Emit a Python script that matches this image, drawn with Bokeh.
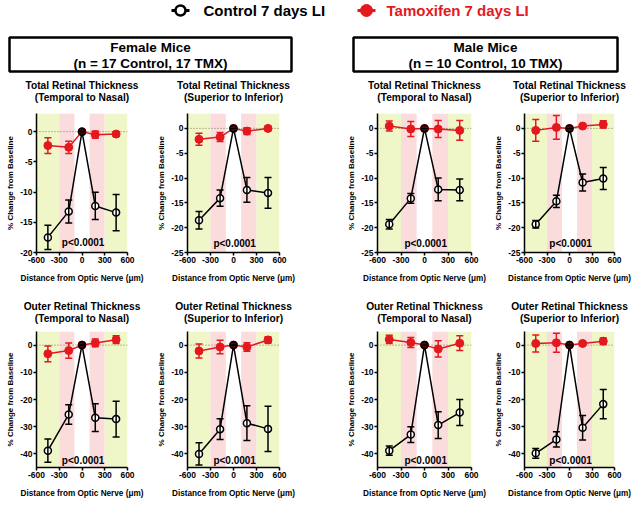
from bokeh.plotting import figure
from bokeh.models import Range1d, FixedTicker, BoxAnnotation, Span, Whisker, ColumnDataSource, TeeHead, Label
from bokeh.layouts import column, row
from bokeh.embed import file_html
from bokeh.resources import INLINE

# ---------------- data ----------------
distance = [-450, -175, 0, 175, 450]
x_ticks = [-600, -300, 0, 300, 600]

# Female, total retinal thickness, temporal to nasal
f_tot_tn_ctrl = [-17.5, -13.2, 0, -12.3, -13.4]
f_tot_tn_ctrl_err = [2.0, 1.9, 0, 2.25, 3.0]
f_tot_tn_tmx = [-2.3, -2.6, 0, -0.5, -0.4]
f_tot_tn_tmx_err = [1.3, 1.0, 0, 0.6, 0.4]

# Female, total retinal thickness, superior to inferior
f_tot_si_ctrl = [-18.5, -14.05, 0, -12.4, -13.0]
f_tot_si_ctrl_err = [1.75, 1.65, 0, 2.5, 3.1]
f_tot_si_tmx = [-2.2, -1.75, 0, -0.55, 0.0]
f_tot_si_tmx_err = [1.2, 0.9, 0, 0.7, 0.45]

# Male, total retinal thickness, temporal to nasal
m_tot_tn_ctrl = [-19.3, -14.1, 0, -12.3, -12.4]
m_tot_tn_ctrl_err = [0.95, 1.0, 0, 2.3, 2.2]
m_tot_tn_tmx = [0.47, -0.13, 0, -0.13, -0.4]
m_tot_tn_tmx_err = [1.0, 1.5, 0, 1.7, 2.0]

# Male, total retinal thickness, superior to inferior
m_tot_si_ctrl = [-19.3, -14.7, 0, -10.9, -10.1]
m_tot_si_ctrl_err = [0.77, 1.23, 0, 1.73, 2.23]
m_tot_si_tmx = [-0.4, 0.2, 0, 0.47, 0.8]
m_tot_si_tmx_err = [2.2, 2.4, 0, 0.4, 0.73]

# Female, outer retinal thickness, temporal to nasal
f_out_tn_ctrl = [-38.8, -25.5, 0, -26.7, -27.2]
f_out_tn_ctrl_err = [4.3, 3.6, 0, 5.1, 6.6]
f_out_tn_tmx = [-3.2, -2.0, 0, 0.8, 2.0]
f_out_tn_tmx_err = [2.9, 2.8, 0, 1.4, 1.4]

# Female, outer retinal thickness, superior to inferior
f_out_si_ctrl = [-40.0, -30.9, 0, -28.7, -30.8]
f_out_si_ctrl_err = [4.1, 3.8, 0, 6.4, 8.3]
f_out_si_tmx = [-2.15, -0.7, 0, -0.7, 1.9]
f_out_si_tmx_err = [2.6, 2.5, 0, 1.6, 1.2]

# Male, outer retinal thickness, temporal to nasal
m_out_tn_ctrl = [-38.8, -32.9, 0, -29.4, -24.8]
m_out_tn_ctrl_err = [1.7, 2.9, 0, 4.9, 4.8]
m_out_tn_tmx = [2.1, 0.95, 0, -1.4, 0.7]
m_out_tn_tmx_err = [1.5, 1.85, 0, 3.0, 2.7]

# Male, outer retinal thickness, superior to inferior
m_out_si_ctrl = [-39.8, -34.7, 0, -30.4, -21.7]
m_out_si_ctrl_err = [1.8, 2.8, 0, 4.5, 5.4]
m_out_si_tmx = [0.6, 0.85, 0, 0.6, 1.45]
m_out_si_tmx_err = [3.1, 3.5, 0, 0.5, 1.2]

titles_top = ["Total Retinal Thickness", "Outer Retinal Thickness"]
titles_sub = ["(Temporal to Nasal)", "(Superior to Inferior)",
              "(Temporal to Nasal)", "(Superior to Inferior)"]
p_text = "p<0.0001"
legend_labels = ["Control 7 days LI", "Tamoxifen 7 days LI"]
group_titles = [["Female Mice", "(n = 17 Control, 17 TMX)"], ["Male Mice", "(n = 10 Control, 10 TMX)"]]

# ---------------- style / layout ----------------
FONT = "Liberation Sans"
RED = "#e3191e"
GREEN_BAND = "#eff7c9"
PINK_BAND = "#fbdcdc"
bands = [(-600, -300, GREEN_BAND), (-300, -100, PINK_BAND), (100, 300, PINK_BAND), (300, 600, GREEN_BAND)]
ctrl_fill = ["white", "white", "#3a0b0b", "white", "white"]

W = 632
widths = [152, 186, 150, 144]
lefts = [36, 35, 39, 36]
rights = [25, 59, 17, 18]
frame_w = [w - l - r for w, l, r in zip(widths, lefts, rights)]
starts = [sum(widths[:i]) for i in range(4)]
centers = [s + l + fw / 2 for s, l, fw in zip(starts, lefts, frame_w)]


def hyphen_labels(ticks):
    return {t: str(t) for t in ticks}


def text_strip(height):
    f = figure(width=W, height=height, x_range=Range1d(0, W), y_range=Range1d(height, 0),
               output_backend="svg", toolbar_location=None, min_border=0)
    f.axis.visible = False
    f.grid.visible = False
    f.outline_line_color = None
    return f


def add_titles(f, main, y1, y2):
    f.text(x=centers, y=[y1] * 4, text=[main] * 4, text_font={"value": FONT}, text_font_style="bold",
           text_font_size="10.2px", text_align="center", text_baseline="middle", text_color="black")
    f.text(x=centers, y=[y2] * 4, text=titles_sub, text_font={"value": FONT}, text_font_style="bold",
           text_font_size="10.2px", text_align="center", text_baseline="middle", text_color="black")


def panel(ctrl, ctrl_err, tmx, tmx_err, yr, yticks, p_y, width, height, left, right, top, bottom):
    p = figure(width=width, height=height, x_range=Range1d(-600, 600), y_range=Range1d(*yr),
               output_backend="svg", toolbar_location=None,
               min_border_left=left, min_border_right=right, min_border_top=top, min_border_bottom=bottom)
    p.outline_line_color = None
    p.grid.visible = False

    for ax in (p.xaxis[0], p.yaxis[0]):
        ax.axis_line_width = 1.5
        ax.axis_line_color = "black"
        ax.major_tick_line_width = 1.5
        ax.major_tick_in = 0
        ax.major_tick_out = 3
        ax.minor_tick_line_color = None
        ax.major_label_text_font = FONT
        ax.major_label_text_font_style = "bold"
        ax.major_label_text_font_size = "8.5px"
        ax.major_label_text_color = "black"
        ax.major_label_standoff = 1
        ax.axis_label_text_font = FONT
        ax.axis_label_text_font_style = "bold"
        ax.axis_label_text_color = "black"
    p.xaxis.ticker = FixedTicker(ticks=x_ticks)
    p.xaxis.major_label_overrides = hyphen_labels(x_ticks)
    p.yaxis.ticker = FixedTicker(ticks=yticks)
    p.yaxis.major_label_overrides = hyphen_labels(yticks)
    p.xaxis.axis_label = "Distance from Optic Nerve (\u03bcm)"
    p.xaxis.axis_label_text_font_size = "8.2px"
    p.xaxis.axis_label_standoff = 8
    p.yaxis.axis_label = "% Change from Baseline"
    p.yaxis.axis_label_text_font_size = "8px"
    p.yaxis.axis_label_standoff = 2

    for l, r, c in bands:
        p.add_layout(BoxAnnotation(left=l, right=r, fill_color=c, fill_alpha=1.0, line_color=None, level="underlay"))
    p.add_layout(Span(location=0, dimension="width", line_color="#7d7d55", line_width=1, line_dash="1 2", level="underlay"))

    src_t = ColumnDataSource(dict(x=distance, y=tmx,
                                  lo=[v - e for v, e in zip(tmx, tmx_err)],
                                  hi=[v + e for v, e in zip(tmx, tmx_err)]))
    src_c = ColumnDataSource(dict(x=distance, y=ctrl, fill=ctrl_fill,
                                  lo=[v - e for v, e in zip(ctrl, ctrl_err)],
                                  hi=[v + e for v, e in zip(ctrl, ctrl_err)]))

    p.add_layout(Whisker(base="x", upper="hi", lower="lo", source=src_t, line_color=RED, line_width=1.5,
                         upper_head=TeeHead(size=7, line_color=RED, line_width=1.5),
                         lower_head=TeeHead(size=7, line_color=RED, line_width=1.5), level="glyph"))
    p.line("x", "y", source=src_t, line_color=RED, line_width=1.5)
    p.scatter("x", "y", source=src_t, marker="circle", size=8, fill_color=RED, line_color=RED, line_width=1)

    p.add_layout(Whisker(base="x", upper="hi", lower="lo", source=src_c, line_color="black", line_width=1.5,
                         upper_head=TeeHead(size=7, line_color="black", line_width=1.5),
                         lower_head=TeeHead(size=7, line_color="black", line_width=1.5), level="glyph"))
    p.line("x", "y", source=src_c, line_color="black", line_width=1.5)
    p.scatter("x", "y", source=src_c, marker="circle", size=7, fill_color="fill", line_color="black", line_width=1.5)

    p.add_layout(Label(x=15, y=p_y, text=p_text, text_font=FONT, text_font_style="bold", text_font_size="10px",
                       text_align="center", text_baseline="middle", text_color="black"))
    return p


# ---------------- header (legend, group boxes, first-row titles) ----------------
header = text_strip(106)
header.segment(x0=[171, 357], y0=[10, 10], x1=[189, 375], y1=[10, 10], line_color=["black", RED], line_width=3)
header.scatter(x=[180], y=[10], marker="circle", size=10, fill_color="white", line_color="black", line_width=2.5)
header.scatter(x=[366], y=[10], marker="circle", size=12, fill_color=RED, line_color=RED)
header.text(x=[203, 386], y=[10, 10], text=legend_labels, text_color=["black", RED],
            text_font={"value": FONT}, text_font_style="bold", text_font_size="15px",
            text_baseline="middle", text_align="left")

header.quad(left=[9, 353], right=[291, 617], top=[37, 37], bottom=[71, 71], fill_color=None,
            line_color="black", line_width=2.5)
header.text(x=[150, 485], y=[47, 47], text=[group_titles[0][0], group_titles[1][0]],
            text_font={"value": FONT}, text_font_style="bold", text_font_size="13.5px",
            text_baseline="middle", text_align="center", text_color="black")
header.text(x=[150, 485], y=[63, 63], text=[group_titles[0][1], group_titles[1][1]],
            text_font={"value": FONT}, text_font_style="bold", text_font_size="13.5px",
            text_baseline="middle", text_align="center", text_color="black")
add_titles(header, titles_top[0], 85, 97)

strip2 = text_strip(38)
add_titles(strip2, titles_top[1], 20, 32)

# ---------------- panels ----------------
TOP_H, BOT_H = 180, 176
top_specs = [
    (f_tot_tn_ctrl, f_tot_tn_ctrl_err, f_tot_tn_tmx, f_tot_tn_tmx_err, (-20, 3), [0, -5, -10, -15, -20], -18.4),
    (f_tot_si_ctrl, f_tot_si_ctrl_err, f_tot_si_tmx, f_tot_si_tmx_err, (-25, 3), [0, -5, -10, -15, -20, -25], -23.2),
    (m_tot_tn_ctrl, m_tot_tn_ctrl_err, m_tot_tn_tmx, m_tot_tn_tmx_err, (-25, 3), [0, -5, -10, -15, -20, -25], -23.2),
    (m_tot_si_ctrl, m_tot_si_ctrl_err, m_tot_si_tmx, m_tot_si_tmx_err, (-25, 3), [0, -5, -10, -15, -20, -25], -23.2),
]
bot_specs = [
    (f_out_tn_ctrl, f_out_tn_ctrl_err, f_out_tn_tmx, f_out_tn_tmx_err, (-45, 5), [0, -10, -20, -30, -40], -42.6),
    (f_out_si_ctrl, f_out_si_ctrl_err, f_out_si_tmx, f_out_si_tmx_err, (-45, 5), [0, -10, -20, -30, -40], -42.6),
    (m_out_tn_ctrl, m_out_tn_ctrl_err, m_out_tn_tmx, m_out_tn_tmx_err, (-45, 5), [0, -10, -20, -30, -40], -42.6),
    (m_out_si_ctrl, m_out_si_ctrl_err, m_out_si_tmx, m_out_si_tmx_err, (-45, 5), [0, -10, -20, -30, -40], -42.6),
]

top_row = [panel(*s, widths[i], TOP_H, lefts[i], rights[i], 7, 34) for i, s in enumerate(top_specs)]
bot_row = [panel(*s, widths[i], BOT_H, lefts[i], rights[i], 7, 31) for i, s in enumerate(bot_specs)]

layout = column(header, row(*top_row), strip2, row(*bot_row))

open("out.html", "w").write(file_html(layout, INLINE))
